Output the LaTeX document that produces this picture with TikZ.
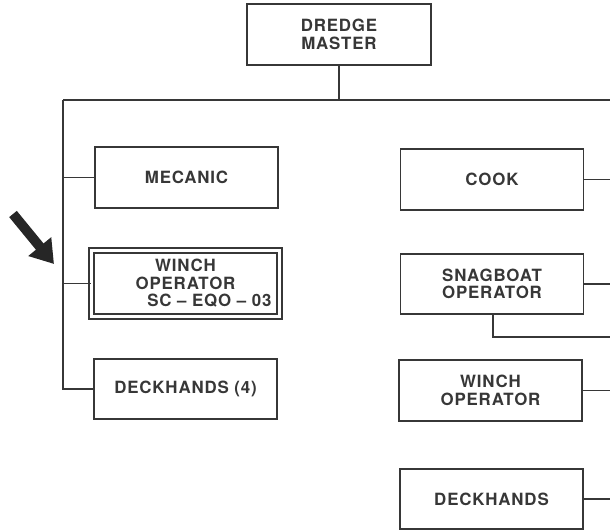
\documentclass[tikz,border=0pt]{standalone}
\usepackage{fontspec}
\setmainfont{TeX Gyre Heros}[LetterSpace=5]
\definecolor{inkgray}{RGB}{55,55,55}
\usetikzlibrary{arrows.meta,positioning}

\begin{document}
\begin{tikzpicture}[x=0.025cm, y=-0.025cm,
    box/.style={draw=inkgray, line width=1.3pt, minimum width=183*0.025cm,
      minimum height=61*0.025cm, inner sep=0pt, align=center, text=inkgray,
      font=\bfseries\fontsize{12}{12.4}\selectfont},
    dbox/.style={box, double=white, line width=1.1pt, double distance=2.4pt,
      minimum width=188*0.025cm, minimum height=66*0.025cm},
    link/.style={draw=inkgray, line width=1.2pt}]
    \useasboundingbox (0,0) rectangle (610,531);

    % Top of the chart
    \node[box, minimum width=184*0.025cm] (master) at (339,34.5) {DREDGE\\MASTER};
    \coordinate (ll) at (63,100);
    \coordinate (rr) at (610,100);
    \draw[link] (master.south) -- (master.south |- ll);
    \draw[link] (ll) -- (rr);

    % Left column
    \node[box] (mecanic) at (186.5,177.5) {MECANIC};
    \node[dbox] (winchL) at (185.5,283.5) {WINCH\\OPERATOR\\\hspace*{34pt}SC -- EQO -- 03};
    \node[box, minimum height=60*0.025cm] (deckL) at (185.5,389) {DECKHANDS (4)};
    \draw[link] (ll) -- (ll |- deckL.west) -- (deckL.west);
    \draw[link] (mecanic.west -| ll) -- (mecanic.west);
    \draw[link] (winchL.west -| ll) -- (winchL.west);

    % Right column
    \node[box] (cook) at (492,179.5) {COOK};
    \node[box, minimum height=60*0.025cm] (snag) at (492,284) {SNAGBOAT\\OPERATOR};
    \node[box] (winchR) at (490.5,390.5) {WINCH\\OPERATOR};
    \node[box, minimum height=60*0.025cm] (deckR) at (491.5,499) {DECKHANDS};
    \coordinate (snagdrop) at (493,337);
    \draw[link] (cook.east) -- (cook.east -| rr);
    \draw[link] (snag.east) -- (snag.east -| rr);
    \draw[link] (snagdrop |- snag.south) -- (snagdrop) -- (snagdrop -| rr);
    \draw[link] (winchR.east) -- (winchR.east -| rr);
    \draw[link] (deckR.east) -- (deckR.east -| rr);

    % Pointer to the marked position
    \coordinate (ptail) at (13,214);
    \coordinate (ptip) at (54,264);
    \draw[line width=7pt, black!85, -{Triangle[length=16pt, width=20pt]}]
      (ptail) -- (ptip);
  \end{tikzpicture}
\end{document}
